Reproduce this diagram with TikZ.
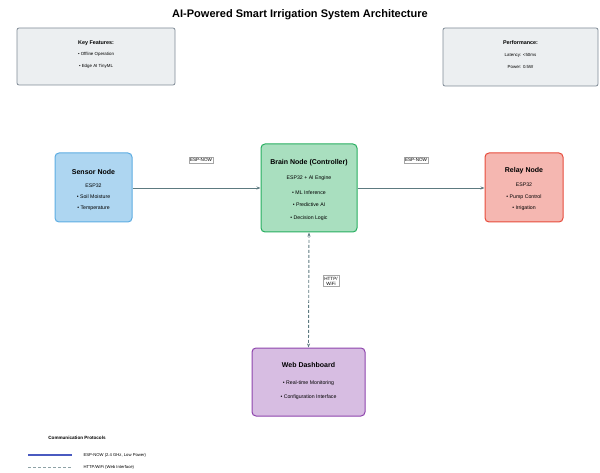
\documentclass[tikz,border=0pt]{standalone}
\usepackage{fontspec}
\setmainfont{Liberation Sans}
\usetikzlibrary{arrows.meta}
\definecolor{infofill}{HTML}{ECEFF1}
\definecolor{infodraw}{HTML}{808B96}
\definecolor{sensfill}{HTML}{AED6F1}
\definecolor{sensdraw}{HTML}{5DADE2}
\definecolor{brainfill}{HTML}{A9DFBF}
\definecolor{braindraw}{HTML}{27AE60}
\definecolor{relayfill}{HTML}{F5B7B1}
\definecolor{relaydraw}{HTML}{E74C3C}
\definecolor{webfill}{HTML}{D7BDE2}
\definecolor{webdraw}{HTML}{8E44AD}
\definecolor{linkcol}{HTML}{5D7A80}
\definecolor{legblue}{HTML}{4A5AC0}
\tikzset{
  infobox/.style={draw=infodraw, fill=infofill, line width=0.8pt, rounded corners=2pt, inner sep=0pt},
  nodebox/.style={line width=1pt, rounded corners=4pt, inner sep=0pt},
  ntitle/.style={font=\bfseries\fontsize{7}{8}\selectfont, inner sep=0pt},
  ntext/.style={font=\fontsize{5.2}{6}\selectfont, inner sep=0pt},
  ititle/.style={font=\bfseries\fontsize{5.4}{6}\selectfont, inner sep=0pt},
  itext/.style={font=\fontsize{4.4}{5}\selectfont, inner sep=0pt},
  link/.style={draw=linkcol, line width=0.9pt, -{Stealth[length=4pt,width=3pt]}},
  weblink/.style={draw=linkcol, line width=0.9pt, dash pattern=on 3pt off 2pt, {Stealth[length=4pt,width=3pt]}-{Stealth[length=4pt,width=3pt]}},
  tag/.style={draw=gray!70, fill=white, line width=0.3pt, font=\fontsize{4.6}{5.2}\selectfont, inner sep=1.2pt, align=center}
}
\begin{document}
\begin{tikzpicture}[x=1pt,y=-1pt]
\useasboundingbox (0,0) rectangle (600,473);
\node[font=\bfseries\fontsize{11}{12}\selectfont] (title) at (300,15) {AI-Powered Smart Irrigation System Architecture};

% info boxes
\node[infobox, minimum width=158pt, minimum height=57pt] (feat) at (96,56.5) {};
\node[ititle] (featT) at (feat.center |- 0,43) {Key Features:};
\node[itext] (feat1) at (feat.center |- 0,54) {• Offline Operation};
\node[itext] (feat2) at (feat.center |- 0,66) {• Edge AI TinyML};

\node[infobox, minimum width=155pt, minimum height=58pt] (perf) at (520.5,57) {};
\node[ititle] (perfT) at (perf.center |- 0,43) {Performance:};
\node[itext] (perf1) at (perf.center |- 0,55) {Latency: {<}50ms};
\node[itext] (perf2) at (perf.center |- 0,67) {Power: 0.5W};

% sensor
\node[nodebox, draw=sensdraw, fill=sensfill, minimum width=77pt, minimum height=69pt] (sensor) at (93.5,187.5) {};
\node[ntitle] (sensT) at (sensor.center |- 0,172) {Sensor Node};
\node[ntext] (sens1) at (sensor.center |- 0,186) {ESP32};
\node[ntext] (sens2) at (sensor.center |- 0,197) {• Soil Moisture};
\node[ntext] (sens3) at (sensor.center |- 0,208) {• Temperature};

% brain
\node[nodebox, draw=braindraw, fill=brainfill, minimum width=96pt, minimum height=88pt] (brain) at (309,188) {};
\node[ntitle] (brainT) at (brain.center |- 0,163) {Brain Node (Controller)};
\node[ntext] (brain1) at (brain.center |- 0,178) {ESP32 + AI Engine};
\node[ntext] (brain2) at (brain.center |- 0,193) {• ML Inference};
\node[ntext] (brain3) at (brain.center |- 0,205) {• Predictive AI};
\node[ntext] (brain4) at (brain.center |- 0,218) {• Decision Logic};

% relay
\node[nodebox, draw=relaydraw, fill=relayfill, minimum width=78pt, minimum height=69pt] (relay) at (524,187.5) {};
\node[ntitle] (relT) at (relay.center |- 0,171) {Relay Node};
\node[ntext] (rel1) at (relay.center |- 0,185) {ESP32};
\node[ntext] (rel2) at (relay.center |- 0,197) {• Pump Control};
\node[ntext] (rel3) at (relay.center |- 0,208) {• Irrigation};

% web
\node[nodebox, draw=webdraw, fill=webfill, minimum width=113pt, minimum height=68pt] (web) at (308.5,382) {};
\node[ntitle] (webT) at (web.center |- 0,365) {Web Dashboard};
\node[ntext] (web1) at (web.center |- 0,383) {• Real-time Monitoring};
\node[ntext] (web2) at (web.center |- 0,397) {• Configuration Interface};

\draw[link] (sensor.east |- 0,188) -- (brain.west |- 0,188);
\draw[link] (brain.east |- 0,188) -- (relay.west |- 0,188);
\draw[weblink] (brain.south) -- (web.north);

\node[tag] (t1) at (201,160) {ESP-NOW};
\node[tag] (t2) at (416,160) {ESP-NOW};
\node[tag] (t3) at (331,281) {HTTP/\\WiFi};

\node[font=\bfseries\fontsize{4.6}{5}\selectfont] (legtitle) at (77,438) {Communication Protocols};
\coordinate (l1a) at (28,455);
\coordinate (l1b) at (72,455);
\coordinate (l2a) at (28,467);
\coordinate (l2b) at (72,467);
\draw[legblue, line width=1.4pt] (l1a) -- (l1b);
\draw[linkcol!70, line width=0.9pt, dash pattern=on 3pt off 2pt] (l2a) -- (l2b);
\node[anchor=west, font=\fontsize{4.2}{4.8}\selectfont] (leg1) at (80,455) {ESP-NOW (2.4 GHz, Low Power)};
\node[anchor=west, font=\fontsize{4.2}{4.8}\selectfont] (leg2) at (80,467) {HTTP/WiFi (Web Interface)};
\end{tikzpicture}
\end{document}
